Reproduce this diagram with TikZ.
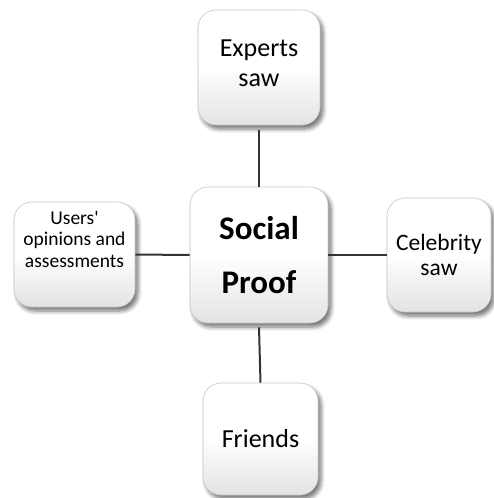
\documentclass[tikz,border=0pt]{standalone}
\usepackage{fontspec}
\setmainfont{Carlito}[Ligatures=TeXOff]
\usetikzlibrary{shadows.blur}
\tikzset{
  card/.style={draw=black!22, line width=0.6pt, rounded corners=18pt,
    top color=white, bottom color=black!11, middle color=white,
    blur shadow={shadow xshift=3pt, shadow yshift=-4pt, shadow blur steps=6,
      shadow blur radius=4pt, shadow opacity=55},
    align=center, inner sep=0pt, font=\fontsize{26}{30}\selectfont},
  link/.style={draw=black!80, line width=2pt}
}
\begin{document}
\begin{tikzpicture}[x=1pt,y=-1pt]
  \useasboundingbox (0,0) rectangle (493,498);
  % hub and its four spokes
  \node[card, minimum width=138pt, minimum height=136pt,
        font=\fontsize{33}{54}\selectfont\bfseries] (hub) at (259,255) {Social\\Proof};
  \node[card, minimum width=122pt, minimum height=115pt] (experts) at (259,67.5)
        {\mbox{}\\[-22pt]Experts\\saw};
  \node[card, minimum width=121pt, minimum height=105pt,
        font=\fontsize{19.5}{21.5}\selectfont] (users) at (74.5,254.5)
        {Users'\\opinions and\\assessments\\[9pt]\mbox{}};
  \node[card, minimum width=104pt, minimum height=114pt,
        font=\fontsize{23.5}{25}\selectfont] (celebrity) at (439,255) {Celebrity\\saw};
  \node[card, minimum width=115pt, minimum height=112pt] (friends) at (260.5,439) {Friends};
  % connectors
  \draw[link] (experts.south) ++(0,5) -- (hub.north);
  \draw[link] (hub.south) ++(0,4) -- (friends.north);
  \draw[link] (users.east) -- (hub.west);
  \draw[link] (hub.east) -- (celebrity.west);
\end{tikzpicture}
\end{document}
